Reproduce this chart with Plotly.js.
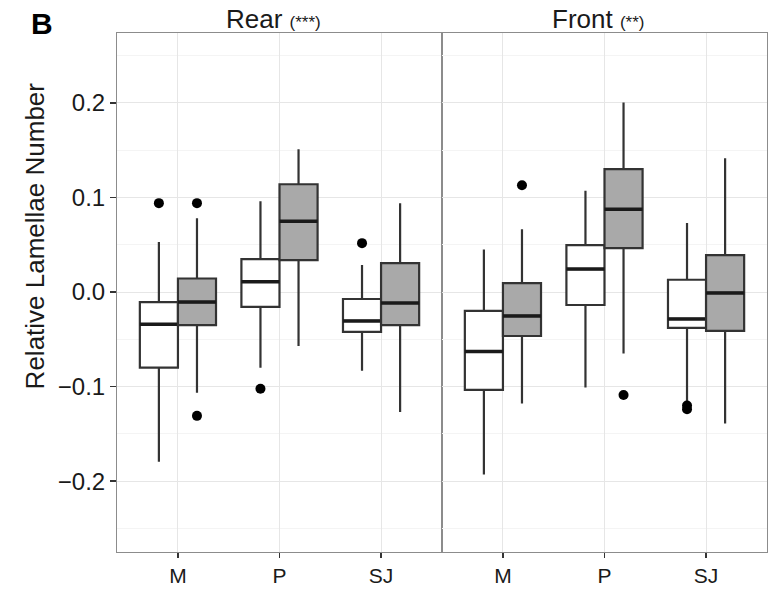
<!DOCTYPE html>
<html>
<head>
<meta charset="utf-8">
<script src="https://cdn.plot.ly/plotly-3.0.1.min.js"></script>
<style>html,body{margin:0;padding:0;background:#fff;}#chart{width:777px;height:590px;}</style>
</head>
<body>
<div id="chart"></div>
<script>
// ---- data ----
const categories = ['M', 'P', 'SJ'];
const facetTitles = ['Rear', 'Front'];
const facetStars = ['(***)', '(**)'];

// stats arrays per series, one value per category: lower whisker, Q1, median, Q3, upper whisker
const rearWhiteLower  = [-0.1795, -0.080, -0.0834];
const rearWhiteQ1     = [-0.080, -0.0158, -0.0422];
const rearWhiteMedian = [-0.034, 0.011, -0.0306];
const rearWhiteQ3     = [-0.0106, 0.0348, -0.0074];
const rearWhiteUpper  = [0.053, 0.096, 0.0285];
const rearWhiteOutCat = ['M', 'P', 'SJ'];
const rearWhiteOutVal = [0.094, -0.1024, 0.0517];

const rearGreyLower  = [-0.1066, -0.057, -0.127];
const rearGreyQ1     = [-0.035, 0.0338, -0.035];
const rearGreyMedian = [-0.0106, 0.075, -0.0116];
const rearGreyQ3     = [0.0143, 0.114, 0.0306];
const rearGreyUpper  = [0.078, 0.151, 0.094];
const rearGreyOutCat = ['M', 'M'];
const rearGreyOutVal = [0.094, -0.131];

const frontWhiteLower  = [-0.193, -0.101, -0.116];
const frontWhiteQ1     = [-0.1035, -0.0137, -0.038];
const frontWhiteMedian = [-0.063, 0.0243, -0.0285];
const frontWhiteQ3     = [-0.020, 0.0496, 0.013];
const frontWhiteUpper  = [0.045, 0.107, 0.073];
const frontWhiteOutCat = ['SJ', 'SJ'];
const frontWhiteOutVal = [-0.120, -0.124];

const frontGreyLower  = [-0.118, -0.065, -0.139];
const frontGreyQ1     = [-0.0465, 0.0465, -0.041];
const frontGreyMedian = [-0.0253, 0.0876, -0.001];
const frontGreyQ3     = [0.0095, 0.130, 0.039];
const frontGreyUpper  = [0.0665, 0.2006, 0.1415];
const frontGreyOutCat = ['M', 'P'];
const frontGreyOutVal = [0.113, -0.109];

// ---- styling ----
const LINE = '#333333';
const FILLS = ['#ffffff', '#a9a9a9'];
const BOXGAP = 0.25;
const DODGE = (1 - BOXGAP) / 4;
const FONT = 'Liberation Sans, Arial, sans-serif';

const xs = categories.map((c, i) => i);

const series = [
  {xa: 'x', ya: 'y', g: 0, lo: rearWhiteLower, q1: rearWhiteQ1, md: rearWhiteMedian, q3: rearWhiteQ3, hi: rearWhiteUpper, oc: rearWhiteOutCat, ov: rearWhiteOutVal},
  {xa: 'x', ya: 'y', g: 1, lo: rearGreyLower, q1: rearGreyQ1, md: rearGreyMedian, q3: rearGreyQ3, hi: rearGreyUpper, oc: rearGreyOutCat, ov: rearGreyOutVal},
  {xa: 'x2', ya: 'y2', g: 0, lo: frontWhiteLower, q1: frontWhiteQ1, md: frontWhiteMedian, q3: frontWhiteQ3, hi: frontWhiteUpper, oc: frontWhiteOutCat, ov: frontWhiteOutVal},
  {xa: 'x2', ya: 'y2', g: 1, lo: frontGreyLower, q1: frontGreyQ1, md: frontGreyMedian, q3: frontGreyQ3, hi: frontGreyUpper, oc: frontGreyOutCat, ov: frontGreyOutVal}
];

const traces = [];
series.forEach(s => {
  traces.push({
    type: 'box', xaxis: s.xa, yaxis: s.ya, x: xs,
    lowerfence: s.lo, q1: s.q1, median: s.md, q3: s.q3, upperfence: s.hi,
    offsetgroup: 'g' + s.g, fillcolor: FILLS[s.g],
    line: {color: LINE, width: 2.2}, whiskerwidth: 0,
    boxpoints: false, showlegend: false, hoverinfo: 'skip'
  });
  // thicker median line overlay
  traces.push({
    type: 'box', xaxis: s.xa, yaxis: s.ya, x: xs,
    lowerfence: s.md, q1: s.md, median: s.md, q3: s.md, upperfence: s.md,
    offsetgroup: 'g' + s.g, fillcolor: 'rgba(0,0,0,0)',
    line: {color: '#1a1a1a', width: 3.5}, whiskerwidth: 0,
    boxpoints: false, showlegend: false, hoverinfo: 'skip'
  });
  traces.push({
    type: 'scatter', mode: 'markers', xaxis: s.xa, yaxis: s.ya,
    x: s.oc.map(c => categories.indexOf(c) + (s.g === 0 ? -DODGE : DODGE)),
    y: s.ov,
    marker: {color: '#000000', size: 10},
    showlegend: false, hoverinfo: 'skip'
  });
});

const yCommon = {
  range: [-0.275, 0.274], dtick: 0.1, tick0: 0,
  showgrid: true, gridcolor: '#e6e6e6', gridwidth: 1,
  minor: {dtick: 0.05, showgrid: true, gridcolor: '#f4f4f4', gridwidth: 1},
  zeroline: false, showline: true, mirror: true, linecolor: '#8c8c8c', linewidth: 1
};
const xCommon = {
  range: [-0.6, 2.6], tickvals: xs, ticktext: categories,
  showgrid: true, gridcolor: '#e6e6e6', gridwidth: 1,
  zeroline: false, showline: true, mirror: true, linecolor: '#8c8c8c', linewidth: 1,
  ticks: 'outside', ticklen: 5, tickwidth: 1.5, tickcolor: '#333333',
  tickfont: {family: FONT, size: 21, color: '#1a1a1a'}
};

const layout = {
  width: 777, height: 590,
  margin: {l: 117, r: 10, t: 33, b: 38},
  paper_bgcolor: '#ffffff', plot_bgcolor: '#ffffff',
  boxmode: 'group', boxgap: BOXGAP, boxgroupgap: 0,
  showlegend: false,
  font: {family: FONT, color: '#1a1a1a'},
  xaxis: Object.assign({}, xCommon, {domain: [0, 0.5], anchor: 'y'}),
  xaxis2: Object.assign({}, xCommon, {domain: [0.5, 1], anchor: 'y2'}),
  yaxis: Object.assign({}, yCommon, {
    anchor: 'x', ticks: 'outside', ticklen: 6, tickwidth: 1.5, tickcolor: '#333333',
    tickformat: '.1f', tickfont: {family: FONT, size: 24, color: '#1a1a1a'}
  }),
  yaxis2: Object.assign({}, yCommon, {anchor: 'x2', matches: 'y', showticklabels: false, ticks: ''}),
  annotations: [
    {text: '<b>B</b>', xref: 'paper', yref: 'paper', x: -0.115, y: 1.0, yanchor: 'bottom', yshift: -9,
     xanchor: 'center', showarrow: false, font: {family: FONT, size: 30, color: '#000'}},
    {text: 'Relative Lamellae Number', xref: 'paper', yref: 'paper', x: -0.127, y: 0.609,
     xanchor: 'center', yanchor: 'middle', textangle: -90, showarrow: false,
     font: {family: FONT, size: 26, color: '#1a1a1a'}}
  ].concat(facetTitles.map((t, i) => ({
    text: t + ' <span style="font-size:17px">' + facetStars[i] + '</span>',
    xref: 'paper', yref: 'paper', x: 0.24 + 0.5 * i, y: 1, xanchor: 'center', yanchor: 'bottom', yshift: -3,
    showarrow: false, font: {family: FONT, size: 26, color: '#1a1a1a'}
  })))
};

Plotly.newPlot('chart', traces, layout, {staticPlot: true, displayModeBar: false});
</script>
</body>
</html>
